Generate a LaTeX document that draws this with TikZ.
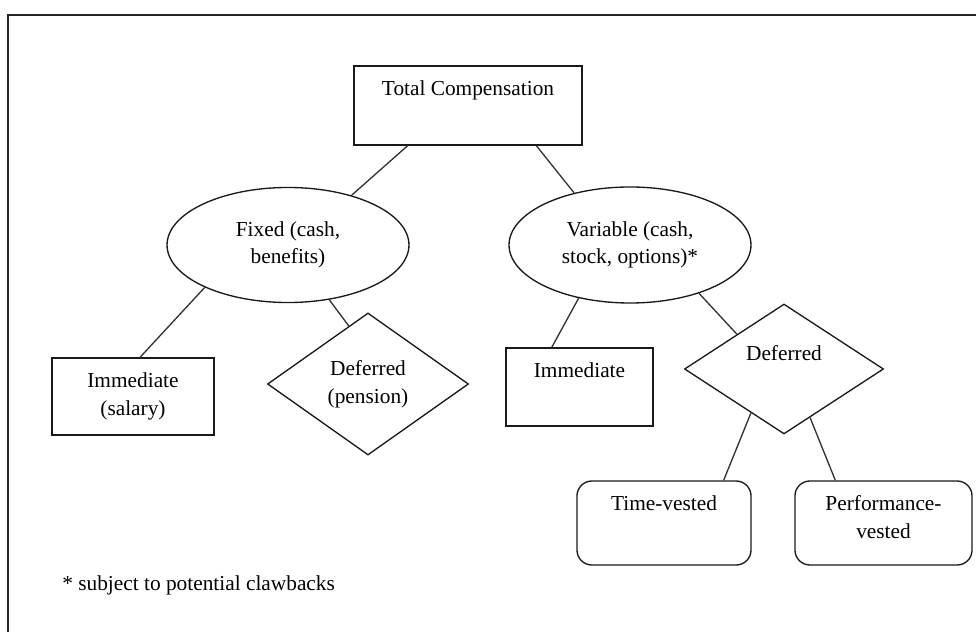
\documentclass[tikz,border=0pt]{standalone}
\usepackage{fontspec}
\setmainfont{Liberation Serif}
\usetikzlibrary{shapes.geometric,calc}
\begin{document}
\begin{tikzpicture}[x=0.5625pt,y=-0.5625pt,
  every node/.style={font=\fontsize{12}{15.5}\selectfont, text=black},
  shapeline/.style={draw=black!90, line width=0.75pt},
  rectbox/.style={shapeline, rectangle, inner sep=0pt, align=center},
  roundbox/.style={shapeline, rectangle, rounded corners=8.4pt, inner sep=0pt},
  ellbox/.style={shapeline, ellipse, inner sep=0pt, align=center},
  diabox/.style={shapeline, diamond, inner sep=0pt, align=center},
  toptext/.style={anchor=north, inner sep=0pt, align=center, yshift=-8.4pt},
  conn/.style={draw=black!80, line width=0.75pt},
  frameline/.style={draw=black!85, line width=0.9pt}]

\useasboundingbox (0,0) rectangle (976,632);
\coordinate (fbl) at (8,632);
\coordinate (ftl) at (8,15);
\coordinate (ftr) at (976,15);
\draw[frameline] (fbl) -- (ftl) -- (ftr);

% shapes
\node[rectbox, minimum width=128.25pt, minimum height=44.44pt] (tc) at (468,105.5) {};
\node[toptext] (tct) at (tc.north) {Total Compensation};

\node[ellbox, minimum width=136.1pt, minimum height=64.7pt] (fixed) at (288,245) {Fixed (cash,\\benefits)};
\node[ellbox, minimum width=136.1pt, minimum height=65.25pt] (var) at (630,245) {Variable (cash,\\stock, options)*};

\node[rectbox, minimum width=91.1pt, minimum height=43.3pt] (imm1) at (133,396.5) {Immediate\\(salary)};
\node[diabox, minimum width=113.1pt, minimum height=79.9pt] (pen) at (368,384) {Deferred\\(pension)};

\node[rectbox, minimum width=82.7pt, minimum height=43.9pt] (imm2) at (579.5,387) {};
\node[toptext] (imm2t) at (imm2.north) {Immediate};

\node[diabox, minimum width=112pt, minimum height=73.1pt] (def2) at (784,369) {};
\node[inner sep=0pt] (def2t) at (784,353) {Deferred};

\node[roundbox, minimum width=97.9pt, minimum height=47.25pt] (tv) at (664,523) {};
\node[toptext] (tvt) at (tv.north) {Time-vested};

\node[roundbox, minimum width=99.6pt, minimum height=47.25pt] (pv) at (883.5,523) {};
\node[toptext] (pvt) at (pv.north) {Performance-\\vested};

\node[anchor=west, inner sep=0pt] (note) at (62,585) {* subject to potential clawbacks};

% connectors
\draw[conn] ($(tc.south west)!0.237!(tc.south east)$) -- (fixed.38);
\draw[conn] ($(tc.south west)!0.798!(tc.south east)$) -- (var.137);
\draw[conn] (fixed.207) -- ($(imm1.north west)!0.543!(imm1.north east)$);
\draw[conn] (fixed.307) -- ($(pen.west)!0.81!(pen.north)$);
\draw[conn] (var.226) -- ($(imm2.north west)!0.313!(imm2.north east)$);
\draw[conn] (var.325) -- ($(def2.west)!0.53!(def2.north)$);
\draw[conn] ($(def2.west)!0.67!(def2.south)$) -- ($(tv.north west)!0.84!(tv.north east)$);
\draw[conn] ($(def2.south)!0.26!(def2.east)$) -- ($(pv.north west)!0.23!(pv.north east)$);
\end{tikzpicture}
\end{document}
